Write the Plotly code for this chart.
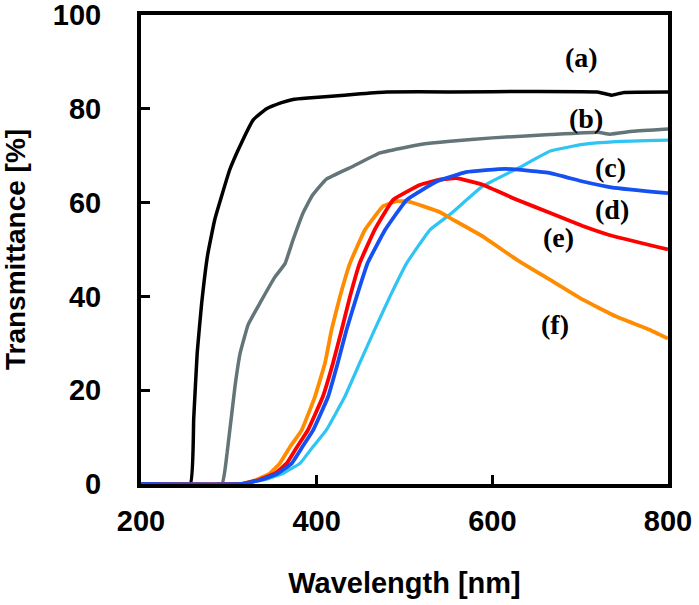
import plotly.graph_objects as go

# (a) black
wl_a = [200, 256, 260, 264, 269, 276, 284, 301, 315, 328, 343, 360, 373, 390, 413, 450, 480, 550, 650, 720, 736, 750, 800]
T_a = [0, 0, 13.9, 28, 38.4, 49, 56.4, 67, 73, 77.7, 80, 81.3, 82, 82.3, 82.6, 83.2, 83.6, 83.6, 83.7, 83.6, 82.9, 83.5, 83.6]
# (b) gray
wl_b = [200, 292, 298, 307, 313, 322, 335.5, 352, 364, 373, 384.5, 395, 411, 441, 472, 518, 552, 600, 666, 720, 734, 760, 800]
T_b = [0, 0, 6.6, 20.8, 28, 34, 38.6, 44, 47, 52, 57.8, 61.5, 65, 67.7, 70.6, 72.4, 73.1, 73.8, 74.5, 75, 74.6, 75.2, 75.7]
# (c) cyan
wl_c = [200, 313, 340, 362, 381, 396, 411, 432, 449, 466, 483.5, 502.5, 529, 552, 589, 631, 666, 703, 741, 800]
T_c = [0, 0, 0.9, 2.3, 4.4, 8, 11.5, 18.6, 25.8, 32.9, 40, 47.1, 54.2, 57.5, 63.5, 67.5, 71, 72.4, 73, 73.3]
# (d) blue
wl_d = [200, 313, 337, 356, 371.6, 384, 396, 413, 424, 434, 445.6, 458, 478, 502.5, 536.6, 570, 615, 666, 703, 737, 800]
T_d = [0, 0, 0.9, 2.3, 4.4, 8, 11.5, 18.6, 25.8, 32.9, 40, 47.1, 54.2, 60.6, 64.5, 66.5, 67.2, 66.3, 64.5, 63.2, 62]
# (e) red
wl_e = [200, 313, 335, 353, 366, 378, 390, 407, 418.6, 428.5, 438, 449, 466, 487, 518, 540, 559, 589, 628, 666, 703, 733, 800]
T_e = [0, 0, 0.9, 2.3, 4.4, 8, 11.5, 18.6, 25.8, 32.9, 40, 47.1, 54.2, 60.6, 63.8, 64.9, 65.2, 63.8, 60.6, 57.8, 55, 53.1, 50]
# (f) orange
wl_f = [200, 313, 330, 347, 358, 370, 383, 398, 409.5, 417, 426.6, 438, 455, 475.5, 491, 505, 540, 552, 589, 628, 666, 703, 741, 779, 800]
T_f = [0, 0, 0.8, 2.3, 4.4, 8, 11.5, 18.6, 25.8, 32.9, 40, 47.1, 54.2, 59.2, 60.3, 60.2, 58, 56.7, 52.8, 47.8, 43.5, 39.3, 35.7, 32.9, 31]

labels = ["(a)", "(b)", "(c)", "(d)", "(e)", "(f)"]
label_x = [702, 707, 734, 736, 675, 671]
label_y = [91, 78, 67.5, 58.5, 52.5, 34]

series = [
    (wl_a, T_a, "#000000", 3.5),
    (wl_b, T_b, "#637579", 3.5),
    (wl_c, T_c, "#2ec4f4", 3.2),
    (wl_f, T_f, "#ff8c00", 3.8),
    (wl_e, T_e, "#ff0000", 3.8),
    (wl_d, T_d, "#1550f0", 3.8),
]

fig = go.Figure()
for x, y, c, w in series:
    fig.add_trace(go.Scatter(x=x, y=y, mode="lines", line=dict(color=c, width=w, shape="spline", smoothing=0.3),
                             showlegend=False, hoverinfo="skip"))

for t, x, y in zip(labels, label_x, label_y):
    fig.add_annotation(x=x, y=y, text="<b>" + t + "</b>", showarrow=False,
                       font=dict(family="Liberation Serif", size=28, color="black"))

axis_common = dict(
    showline=True, linecolor="black", linewidth=4, mirror=True,
    ticks="inside", ticklen=9, tickwidth=3, tickcolor="black",
    showgrid=False, zeroline=False, automargin=False, ticklabeloverflow="allow",
    tickfont=dict(family="Liberation Sans", size=29, color="black", weight="bold"),
)

fig.update_layout(
    width=699, height=605,
    margin=dict(l=141, r=31, t=15, b=121),
    plot_bgcolor="white", paper_bgcolor="white",
    xaxis=dict(range=[200, 800], tickvals=[200, 400, 600, 800], ticklabelstandoff=8,
               title=dict(text="Wavelength [nm]", standoff=38,
                          font=dict(family="Liberation Sans", size=29, color="black", weight="bold")),
               **axis_common),
    yaxis=dict(range=[0, 100], tickvals=[0, 20, 40, 60, 80, 100], ticklabelstandoff=30,
               title=dict(text="Transmittance [%]", standoff=34,
                          font=dict(family="Liberation Sans", size=28, color="black", weight="bold")),
               **axis_common),
)

fig.write_html("out.html", config={"displayModeBar": False},
               post_script="document.body.style.margin='0';")
